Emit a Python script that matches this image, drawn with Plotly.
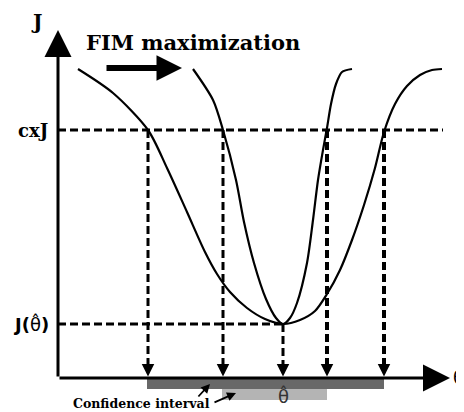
import plotly.graph_objects as go

# Schematic coordinates: theta (horizontal) and J (vertical), origin at axes corner
wide_theta = [2.0, 5.5, 9.0, 10.9, 12.9, 14.7, 15.9, 17.2, 18.9, 20.7, 22.5,
              24.2, 25.7, 26.9, 28.2, 29.4, 30.6, 31.7, 32.6, 33.7, 34.9, 36.2, 37.4, 38.4]
wide_J = [30.9, 28.5, 24.8, 21.0, 16.6, 12.6, 10.4, 8.6, 7.0, 5.9, 5.4,
          5.8, 6.7, 8.4, 10.8, 13.8, 17.3, 21.0, 24.6, 27.4, 29.2, 30.3, 30.8, 30.9]

narrow_theta = [13.5, 15.5, 16.5, 17.8, 18.6, 19.6, 20.8, 21.8, 22.5, 23.2, 23.9,
                24.9, 25.5, 26.0, 26.5, 26.9, 27.3, 27.8, 28.4, 29.4]
narrow_J = [30.9, 27.8, 24.8, 19.8, 15.6, 11.5, 7.9, 6.0, 5.4, 6.0, 7.5,
            11.5, 15.8, 19.8, 22.8, 25.0, 27.4, 29.4, 30.6, 30.9]

theta_hat = 22.5
J_min = 5.4
cxJ = 24.8
wide_interval = [8.9, 32.6]
narrow_interval = [16.4, 26.9]
crossings = [9.0, 16.5, 26.9, 32.6]

x_axis_end = 39.2
y_axis_end = 34.8

SERIF = "DejaVu Serif"

fig = go.Figure()

# confidence interval bars
fig.add_trace(go.Bar(orientation="h", y=[-0.6], x=[wide_interval[1] - wide_interval[0]],
                     base=[wide_interval[0]], width=[1.0], marker_color="#686868",
                     marker_line_width=0, hoverinfo="skip"))
fig.add_trace(go.Bar(orientation="h", y=[-1.65], x=[narrow_interval[1] - narrow_interval[0]],
                     base=[narrow_interval[0]], width=[1.1], marker_color="#b4b4b4",
                     marker_line_width=0, hoverinfo="skip"))

# curves
fig.add_trace(go.Scatter(x=wide_theta, y=wide_J, mode="lines",
                         line=dict(color="black", width=2.2, shape="spline", smoothing=0.8),
                         hoverinfo="skip"))
fig.add_trace(go.Scatter(x=narrow_theta, y=narrow_J, mode="lines",
                         line=dict(color="black", width=2.2, shape="spline", smoothing=0.8),
                         hoverinfo="skip"))

shapes = []
dash = "8px,4px"
# horizontal dashed lines
shapes.append(dict(type="line", x0=0, x1=38.5, y0=cxJ, y1=cxJ,
                   line=dict(color="black", width=3, dash=dash)))
shapes.append(dict(type="line", x0=0, x1=theta_hat, y0=J_min, y1=J_min,
                   line=dict(color="black", width=3, dash=dash)))
# vertical dashed lines
for i, c in enumerate(crossings):
    shapes.append(dict(type="line", x0=c, x1=c, y0=cxJ, y1=1.0,
                       line=dict(color="black", width=3 if i < 2 else 4, dash=dash)))
shapes.append(dict(type="line", x0=theta_hat, x1=theta_hat, y0=J_min, y1=1.0,
                   line=dict(color="black", width=3, dash=dash)))
fig.update_layout(shapes=shapes)

ann = []
# axes arrows
ann.append(dict(x=0, y=y_axis_end, ax=0, ay=0, xref="x", yref="y", axref="x", ayref="y",
                showarrow=True, arrowhead=2, arrowwidth=3, arrowsize=1.8, arrowcolor="black", text=""))
ann.append(dict(x=x_axis_end, y=0, ax=0, ay=0, xref="x", yref="y", axref="x", ayref="y",
                showarrow=True, arrowhead=2, arrowwidth=3, arrowsize=1.8, arrowcolor="black", text=""))
# small arrowheads on vertical lines
for c in crossings + [theta_hat]:
    ann.append(dict(x=c, y=0.15, ax=c, ay=1.4, xref="x", yref="y", axref="x", ayref="y",
                    showarrow=True, arrowhead=2, arrowwidth=2.5, arrowsize=1.0,
                    arrowcolor="black", text=""))
# FIM arrow
ann.append(dict(x=12.4, y=31.0, ax=4.7, ay=31.0, xref="x", yref="y", axref="x", ayref="y",
                showarrow=True, arrowhead=2, arrowwidth=6, arrowsize=0.85, arrowcolor="black", text=""))
# confidence interval arrows
ann.append(dict(x=15.2, y=-0.6, ax=13.9, ay=-2.0, xref="x", yref="y", axref="x", ayref="y",
                showarrow=True, arrowhead=2, arrowwidth=1.8, arrowsize=1.0, arrowcolor="black", text=""))
ann.append(dict(x=17.8, y=-1.5, ax=15.5, ay=-2.5, xref="x", yref="y", axref="x", ayref="y",
                showarrow=True, arrowhead=2, arrowwidth=1.8, arrowsize=1.0, arrowcolor="black", text=""))

# texts
ann.append(dict(x=-2.2, y=35.6, text="<b>J</b>", showarrow=False, xref="x", yref="y",
                font=dict(family=SERIF, size=20, color="black")))
ann.append(dict(x=13.45, y=33.6, text="<b>FIM maximization</b>", showarrow=False, xref="x", yref="y",
                font=dict(family=SERIF, size=21, color="black")))
ann.append(dict(x=-0.8, y=cxJ, text="<b>cxJ</b>", showarrow=False, xref="x", yref="y",
                xanchor="right", font=dict(family=SERIF, size=18, color="black")))
ann.append(dict(x=-0.7, y=J_min, text="<b>J(</b>θ̂<b>)</b>", showarrow=False, xref="x", yref="y",
                xanchor="right", font=dict(family="DejaVu Sans", size=18, color="black")))
ann.append(dict(x=39.25, y=0.1, text="θ", showarrow=False, xref="x", yref="y",
                xanchor="left", font=dict(family="DejaVu Sans", size=18, color="black")))
ann.append(dict(x=theta_hat, y=-1.75, text="θ̂", showarrow=False, xref="x", yref="y",
                font=dict(family="DejaVu Sans", size=18, color="#333333")))
ann.append(dict(x=8.3, y=-2.5, text="<b>Confidence interval</b>", showarrow=False, xref="x", yref="y",
                font=dict(family=SERIF, size=12.5, color="black")))
fig.update_layout(annotations=ann)

# page body adds an 8px margin, so the figure is 8px smaller and ranges are shifted
fig.update_layout(
    width=456, height=404,
    margin=dict(l=0, r=0, t=0, b=0),
    paper_bgcolor="white", plot_bgcolor="white",
    showlegend=False,
    barmode="overlay",
    xaxis=dict(range=[-5.0, 40.6], visible=False, fixedrange=True),
    yaxis=dict(range=[-3.4, 37.0], visible=False, fixedrange=True),
)

fig.write_html("out.html")
